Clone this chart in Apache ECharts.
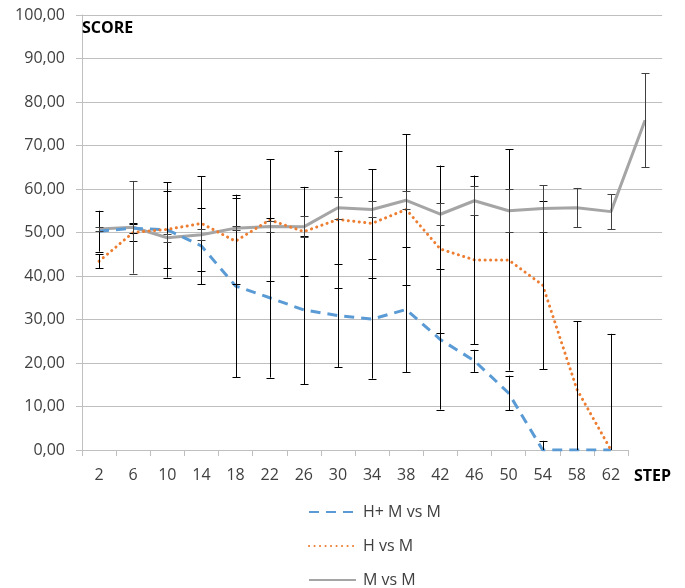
<!DOCTYPE html>
<html>
<head>
<meta charset="utf-8">
<script src="https://cdn.jsdelivr.net/npm/echarts@6/dist/echarts.min.js"></script>
<style>html,body{margin:0;padding:0;background:#fff;}#c{width:685px;height:588px;}</style>
</head>
<body>
<div id="c"></div>
<script>
// ---- data ----
const steps = ['2','6','10','14','18','22','26','30','34','38','42','46','50','54','58','62'];
const plotSteps = steps.concat(['66']);
const yTicks = [0,10,20,30,40,50,60,70,80,90,100];
const seriesNames = ['H+ M vs M', 'H vs M', 'M vs M'];
const hmM    = [50.3, 51.0, 50.6, 46.9, 37.7, 35.0, 32.2, 30.9, 30.1, 32.3, 25.4, 20.5, 13.1, 0, 0, 0];
const hmMErr = [4.7, 1.1, 10.95, 8.8, 21.0, 18.35, 17.1, 11.8, 13.7, 14.4, 16.1, 2.55, 4.0, 2.1, 0, 0];
const hM     = [43.4, 50.0, 50.7, 52.1, 48.0, 52.9, 50.2, 53.0, 52.1, 55.3, 46.2, 43.7, 43.7, 37.9, 14.0, 0];
const hMErr  = [1.6, 2.0, 8.8, 10.9, 9.9, 14.0, 10.3, 15.8, 12.5, 17.35, 19.2, 19.4, 25.45, 19.3, 15.6, 26.7];
const mM     = [50.8, 51.2, 48.8, 49.5, 51.0, 51.4, 51.3, 55.7, 55.3, 57.4, 54.2, 57.3, 55.0, 55.5, 55.7, 54.8, 75.8];
const mMErr  = [0.5, 10.65, 0.95, 1.2, 0.5, 1.2, 2.4, 2.55, 1.85, 2.1, 2.55, 3.3, 4.95, 5.4, 4.55, 4.0, 10.85];

const FONT = '"Open Sans", "Noto Sans", sans-serif';
const GRID_C = '#bfbfbf';
const LABEL_C = '#404040';

function errData(vals, errs) {
  const out = [];
  vals.forEach((v, i) => {
    if (v != null && errs[i] != null && errs[i] > 0) out.push([i, v - errs[i], v + errs[i]]);
  });
  return out;
}
function errSeries(vals, errs, color) {
  return {
    type: 'custom', xAxisIndex: 1, yAxisIndex: 1, z: 5, silent: true,
    data: errData(vals, errs),
    encode: {x: 0, y: [1, 2]},
    renderItem: function (params, api) {
      const i = api.value(0), lo = api.value(1), hi = api.value(2);
      const top = api.coord([i, Math.min(hi, 100)]);
      const bot = api.coord([i, Math.max(lo, 0)]);
      const x = Math.round(top[0]) + 0.5;
      const cw = 4;
      const st = {stroke: color, lineWidth: 1};
      const ch = [{type: 'line', shape: {x1: x, y1: top[1], x2: x, y2: bot[1]}, style: st}];
      if (hi <= 100) ch.push({type: 'line', shape: {x1: x - cw, y1: Math.round(top[1]) + 0.5, x2: x + cw, y2: Math.round(top[1]) + 0.5}, style: st});
      if (lo >= 0) ch.push({type: 'line', shape: {x1: x - cw, y1: Math.round(bot[1]) + 0.5, x2: x + cw, y2: Math.round(bot[1]) + 0.5}, style: st});
      return {type: 'group', children: ch};
    }
  };
}

const chart = echarts.init(document.getElementById('c'), null, {renderer: 'canvas'});
const gridTop = 15, gridBottom = 588 - 450, gridLeft = 82, catW = 34.125;
const lineSplitColors = yTicks.map((t, k) => k === 0 ? 'rgba(0,0,0,0)' : GRID_C);

chart.setOption({
  animation: false,
  backgroundColor: '#fff',
  title: [
    {text: 'SCORE', left: 82, top: 20, padding: 0, textStyle: {fontFamily: FONT, fontSize: 16, fontWeight: 'bold', color: '#000'}},
    {text: 'STEP', left: 634, top: 468, padding: 0, textStyle: {fontFamily: FONT, fontSize: 16, fontWeight: 'bold', color: '#000'}}
  ],
  grid: [
    {left: gridLeft, top: gridTop, bottom: gridBottom, width: catW * steps.length},
    {left: gridLeft, top: gridTop, bottom: gridBottom, width: catW * plotSteps.length}
  ],
  xAxis: [
    {type: 'category', gridIndex: 0, data: steps, boundaryGap: true,
     axisLine: {show: true, lineStyle: {color: GRID_C, width: 1}},
     axisTick: {show: true, length: 6, inside: false, lineStyle: {color: GRID_C}},
     axisLabel: {fontFamily: FONT, fontSize: 16, color: LABEL_C, margin: 17, interval: 0},
     splitLine: {show: false}},
    {type: 'category', gridIndex: 1, data: plotSteps, boundaryGap: true, show: false}
  ],
  yAxis: [
    {type: 'value', gridIndex: 0, min: 0, max: 100, interval: 10, show: false, splitLine: {show: false}},
    {type: 'value', gridIndex: 1, min: 0, max: 100, interval: 10,
     axisLine: {show: true, lineStyle: {color: GRID_C, width: 1}},
     axisTick: {show: true, length: 6, lineStyle: {color: GRID_C}},
     axisLabel: {fontFamily: FONT, fontSize: 16, color: LABEL_C, margin: 17,
                 formatter: v => v.toFixed(2).replace('.', ',')},
     splitLine: {show: true, lineStyle: {color: lineSplitColors, width: 1}}}
  ],
  legend: {
    orient: 'vertical', left: 308, top: 504, padding: 0,
    itemWidth: 47, itemHeight: 16, itemGap: 18,
    data: seriesNames,
    itemStyle: {opacity: 0},
    textStyle: {fontFamily: FONT, fontSize: 16, color: LABEL_C, padding: [0, 0, 0, 2]}
  },
  series: [
    {name: seriesNames[0], type: 'line', xAxisIndex: 1, yAxisIndex: 1, data: hmM, symbol: 'none', z: 3,
     color: '#5B9BD5', lineStyle: {color: '#5B9BD5', width: 3, type: [10, 7]}},
    {name: seriesNames[1], type: 'line', xAxisIndex: 1, yAxisIndex: 1, data: hM, symbol: 'none', z: 3,
     color: '#ED7D31', lineStyle: {color: '#ED7D31', width: 3, type: [0.1, 5.4], cap: 'round'}},
    {name: seriesNames[2], type: 'line', xAxisIndex: 1, yAxisIndex: 1, data: mM, symbol: 'none', z: 2,
     color: '#A5A5A5', lineStyle: {color: '#A5A5A5', width: 3}},
    errSeries(hmM, hmMErr, '#000000'),
    errSeries(hM, hMErr, '#000000'),
    errSeries(mM, mMErr, '#404040')
  ]
});
</script>
</body>
</html>
